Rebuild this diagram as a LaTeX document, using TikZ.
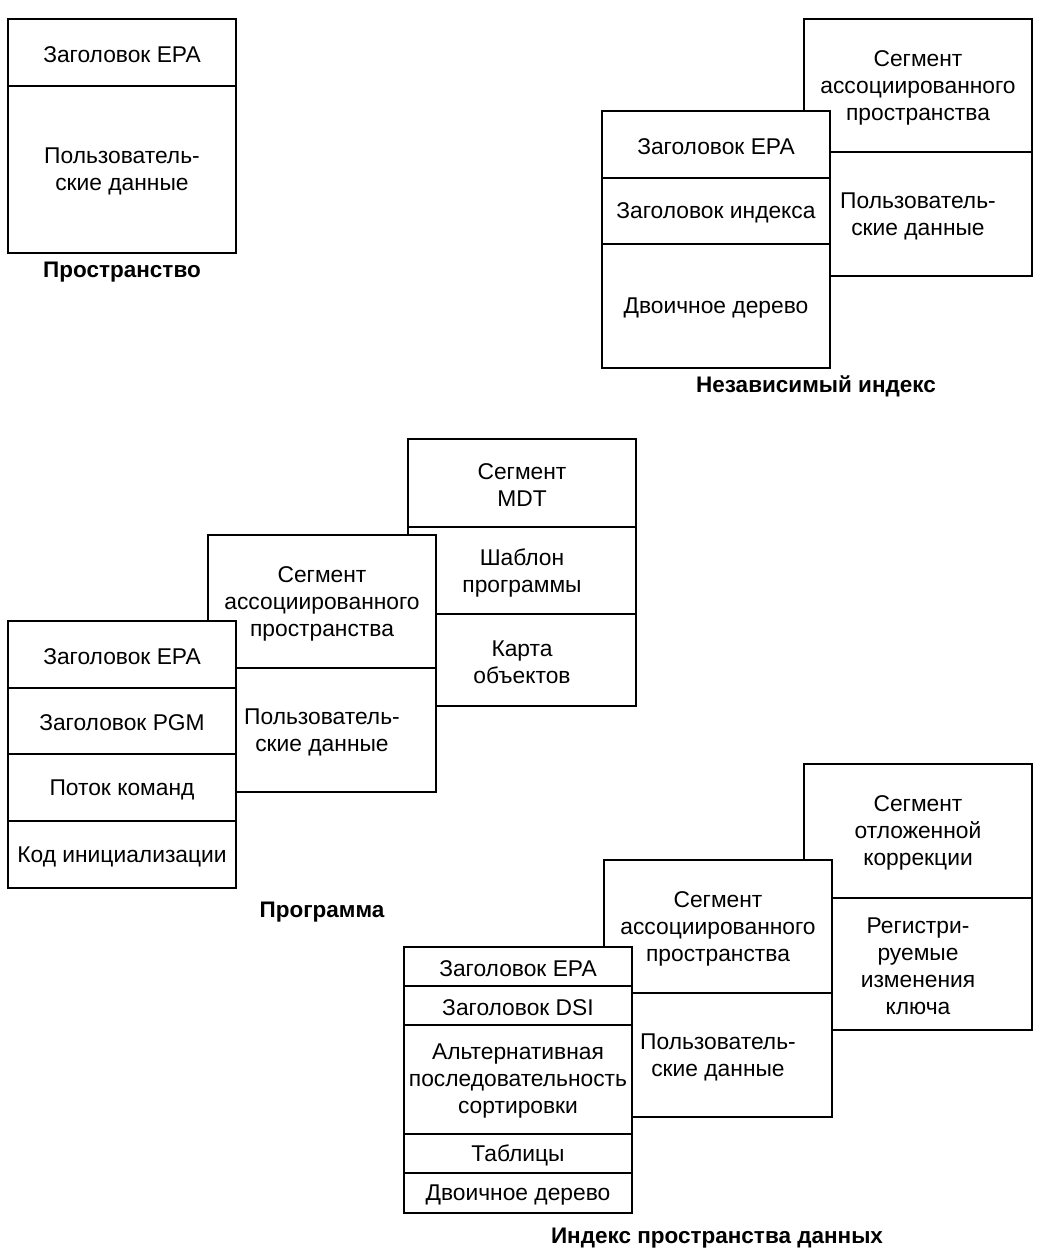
\documentclass[tikz,border=0pt]{standalone}
\usepackage{fontspec}
\setmainfont{Liberation Sans}
\tikzset{
  cellbox/.style={draw, fill=white, line width=2.4pt, inner sep=0pt, minimum width=228pt},
  celltext/.style={inner sep=0pt, align=center, yshift=-2pt, font=\fontsize{22.8}{27}\selectfont},
  grouplabel/.style={inner sep=0pt, font=\fontsize{22.5}{26}\selectfont\bfseries}
}
% \mycell{name}{left x}{top y}{bottom y}{text}
\newcommand\mycell[5]{\node[cellbox, minimum height={(#4-#3)*1pt}, label={[celltext]center:{#5}}] (#1) at ({#2+114},{(#3+#4)/2}) {};}
\begin{document}
\begin{tikzpicture}[x=1pt,y=-1pt]
\useasboundingbox (0,0) rectangle (1061,1251);
% Group 1
\mycell{a1}{8}{19}{86}{Заголовок EPA}
\mycell{a2}{8}{86}{253}{Пользователь-\\ские данные}
\node[grouplabel] (la) at (122,272) {Пространство};
% Group 2
\mycell{b1}{804}{19}{152}{Сегмент\\ассоциированного\\пространства}
\mycell{b2}{804}{152}{276}{Пользователь-\\ские данные}
\mycell{b3}{602}{111}{178}{Заголовок EPA}
\mycell{b4}{602}{178}{244}{Заголовок индекса}
\mycell{b5}{602}{244}{368}{Двоичное дерево}
\node[grouplabel] (lb) at (816,386) {Независимый индекс};
% Group 3
\mycell{c1}{408}{439}{527}{Сегмент\\MDT}
\mycell{c2}{408}{527}{614}{Шаблон\\программы}
\mycell{c3}{408}{614}{706}{Карта\\объектов}
\mycell{c4}{208}{535}{668}{Сегмент\\ассоциированного\\пространства}
\mycell{c5}{208}{668}{792}{Пользователь-\\ские данные}
\mycell{c6}{8}{621}{688}{Заголовок EPA}
\mycell{c7}{8}{688}{754}{Заголовок PGM}
\mycell{c8}{8}{754}{821}{Поток команд}
\mycell{c9}{8}{821}{888}{Код инициализации}
\node[grouplabel] (lc) at (322,912) {Программа};
% Group 4
\mycell{d1}{804}{764}{898}{Сегмент\\отложенной\\коррекции}
\mycell{d2}{804}{898}{1030}{Регистри-\\руемые\\изменения\\ключа}
\mycell{d3}{604}{860}{993}{Сегмент\\ассоциированного\\пространства}
\mycell{d4}{604}{993}{1117}{Пользователь-\\ские данные}
\mycell{d5}{404}{947}{986}{Заголовок EPA}
\mycell{d6}{404}{986}{1025}{Заголовок DSI}
\mycell{d7}{404}{1025}{1134}{Альтернативная\\последовательность\\сортировки}
\mycell{d8}{404}{1134}{1173}{Таблицы}
\mycell{d9}{404}{1173}{1213}{Двоичное дерево}
\node[grouplabel] (ld) at (717,1238) {Индекс пространства данных};
\end{tikzpicture}
\end{document}
